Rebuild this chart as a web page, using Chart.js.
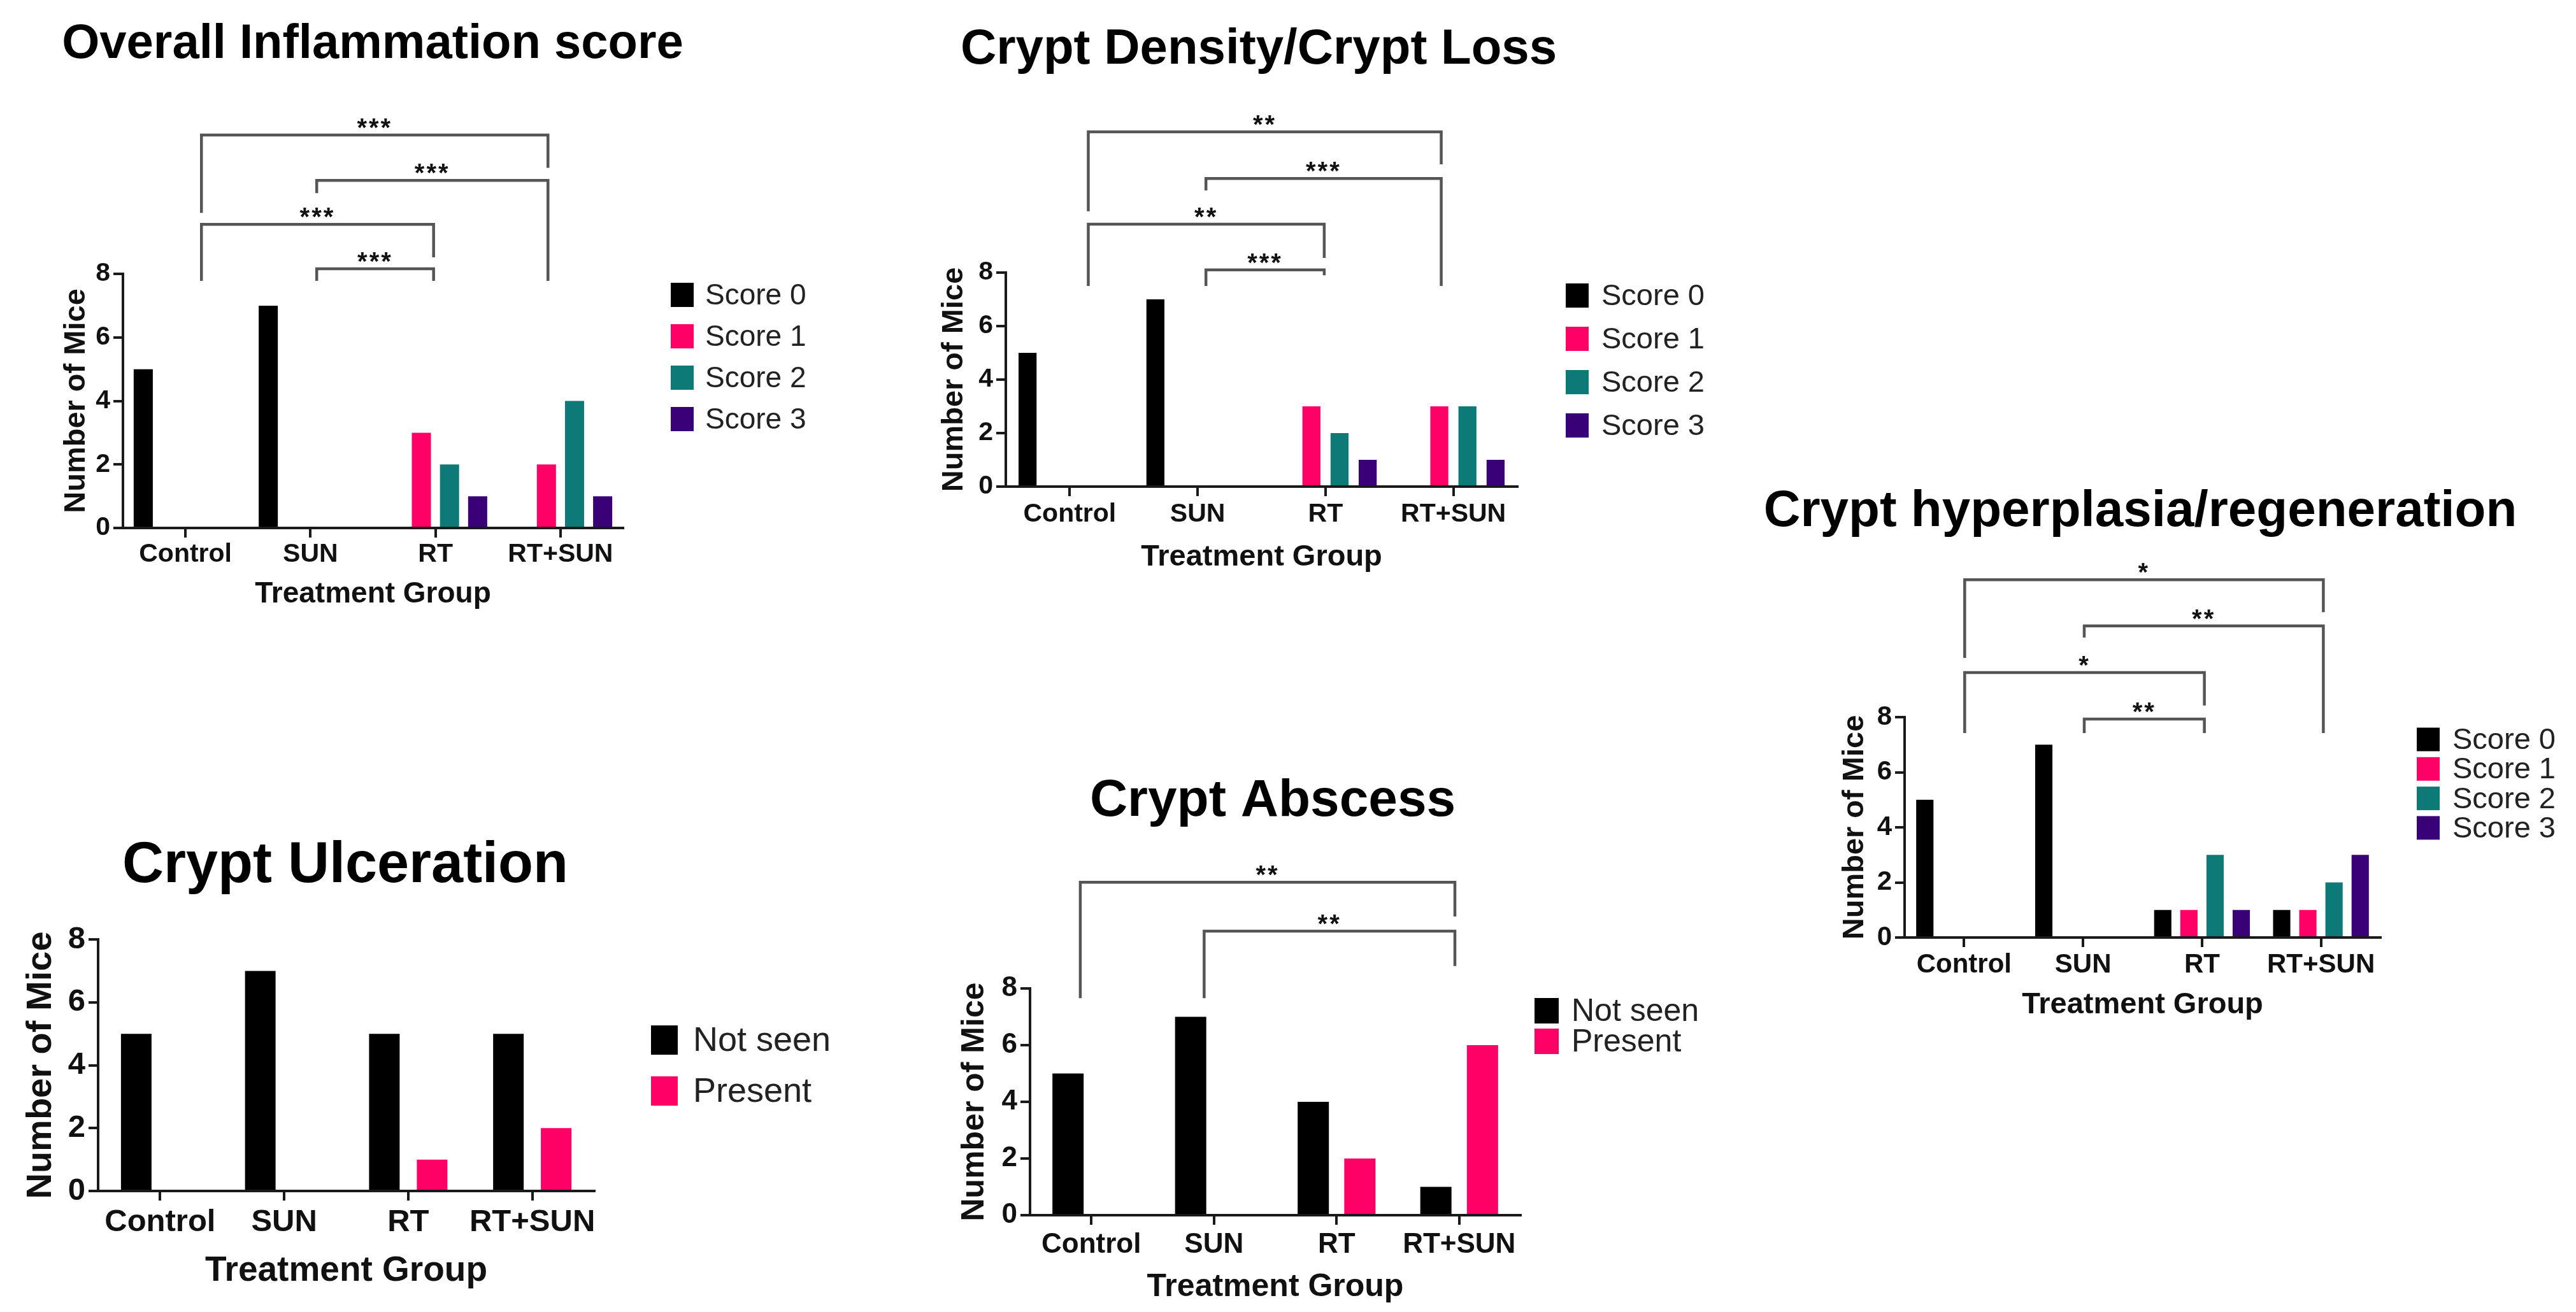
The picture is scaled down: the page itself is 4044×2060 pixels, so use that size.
<!DOCTYPE html>
<html>
<head>
<meta charset="utf-8">
<script src="https://cdn.jsdelivr.net/npm/chart.js@4/dist/chart.umd.min.js"></script>
<style>
  html, body { margin: 0; padding: 0; background: #fff; }
  body { width: 4044px; height: 2060px; position: relative; overflow: hidden; }
  canvas { position: absolute; }
</style>
</head>
<body>
<canvas id="c1"></canvas>
<canvas id="c2"></canvas>
<canvas id="c3"></canvas>
<canvas id="c4"></canvas>
<canvas id="c5"></canvas>
<script>
// data
const groups = ["Control", "SUN", "RT", "RT+SUN"];
const scoreNames = ["Score 0", "Score 1", "Score 2", "Score 3"];
const presenceNames = ["Not seen", "Present"];
const yTicks = [0, 2, 4, 6, 8];

const inflammation = [[5, 7, 0, 0], [0, 0, 3, 2], [0, 0, 2, 4], [0, 0, 1, 1]];
const cryptLoss = [[5, 7, 0, 0], [0, 0, 3, 3], [0, 0, 2, 3], [0, 0, 1, 1]];
const hyperplasia = [[5, 7, 1, 1], [0, 0, 1, 1], [0, 0, 3, 2], [0, 0, 1, 3]];
const ulceration = [[5, 7, 5, 5], [0, 0, 1, 2]];
const abscess = [[5, 7, 4, 1], [0, 0, 2, 6]];

// significance brackets: [group a, group b, stars]
const inflammationSig = [[0, 3, "***"], [1, 3, "***"], [0, 2, "***"], [1, 2, "***"]];
const cryptLossSig = [[0, 3, "**"], [1, 3, "***"], [0, 2, "**"], [1, 2, "***"]];
const hyperplasiaSig = [[0, 3, "*"], [1, 3, "**"], [0, 2, "*"], [1, 2, "**"]];
const abscessSig = [[0, 3, "**"], [1, 3, "**"]];

const colors = ["#000000", "#FF0066", "#0E7A78", "#3A0078"];
const FONT = '"Liberation Sans", Arial, sans-serif';
const AXIS = "#1a1a1a";

const panels = [
  { id: "c1", box: [0, 0, 1330, 1000], plot: [193, 430, 978, 829], yAxisW: 106, xAxisH: 132,
    title: "Overall Inflammation score", titleX: 585, titleY: 91, titleSize: 76,
    yTitleSize: 47, xTitleSize: 46, tickSize: 41, xTickPad: 2,
    legend: { x: 1053, y: 463, step: 65, w: 36, h: 38, textX: 1107, size: 46 },
    names: scoreNames, values: inflammation, cat: 0.9, bar: 0.68,
    sig: inflammationSig, shift: [0.128, 0.05, -0.015, -0.1],
    levels: [[12.37, 9.92, 11.34], [10.94, 10.54, 7.78], [9.56, 7.78, 8.52], [8.16, 7.78, 7.78]] },
  { id: "c2", box: [1400, 0, 2730, 960], plot: [1579, 428, 2382, 764], yAxisW: 114, xAxisH: 139,
    title: "Crypt Density/Crypt Loss", titleX: 1976, titleY: 100, titleSize: 78,
    yTitleSize: 47, xTitleSize: 47, tickSize: 41, xTickPad: 4,
    legend: { x: 2458, y: 464, step: 68, w: 36, h: 38, textX: 2514, size: 47 },
    names: scoreNames, values: cryptLoss, cat: 0.88, bar: 0.64,
    sig: cryptLossSig, shift: [0.145, 0.065, -0.01, -0.095],
    levels: [[13.26, 10.29, 12.05], [11.52, 11.07, 7.5], [9.81, 7.5, 8.55], [8.1, 7.5, 7.9]] },
  { id: "c3", box: [2740, 700, 4044, 1640], plot: [2990, 1126, 3737, 1472], yAxisW: 111, xAxisH: 134,
    title: "Crypt hyperplasia/regeneration", titleX: 3360, titleY: 826, titleSize: 80,
    yTitleSize: 47, xTitleSize: 47, tickSize: 42, xTickPad: 3,
    legend: { x: 3794, y: 1161, step: 46.3, w: 36, h: 37, textX: 3850, size: 47 },
    names: scoreNames, values: hyperplasia, cat: 0.88, bar: 0.66,
    sig: hyperplasiaSig, shift: [0.005, 0.01, 0.02, 0.02],
    levels: [[12.99, 10.15, 11.81], [11.31, 10.89, 7.42], [9.62, 7.42, 8.42], [7.93, 7.42, 7.42]] },
  { id: "c4", box: [0, 1200, 1380, 2060], plot: [154, 1475, 933, 1870], yAxisW: 128, xAxisH: 159,
    title: "Crypt Ulceration", titleX: 542, titleY: 1385, titleSize: 90,
    yTitleSize: 56, xTitleSize: 55, tickSize: 49, xTickPad: 5,
    legend: { x: 1022, y: 1633, step: 80, w: 42, h: 46, textX: 1088, size: 54 },
    names: presenceNames, values: ulceration, cat: 0.77, bar: 0.64,
    sig: [], shift: [0, 0, 0, 0], levels: [] },
  { id: "c5", box: [1400, 1180, 2740, 2060], plot: [1617, 1552, 2387, 1908], yAxisW: 122, xAxisH: 143,
    title: "Crypt Abscess", titleX: 1998, titleY: 1281, titleSize: 82,
    yTitleSize: 50, xTitleSize: 50, tickSize: 44, xTickPad: 5,
    legend: { x: 2409, y: 1587, step: 48, w: 38, h: 40, textX: 2467, size: 50 },
    names: presenceNames, values: abscess, cat: 0.76, bar: 0.67,
    sig: abscessSig, shift: [-0.09, -0.08, 0, -0.035],
    levels: [[11.75, 7.66, 10.54], [10.02, 7.66, 8.79]] }
];

// title, legend and significance brackets
const decor = {
  id: "decor",
  afterDraw(chart, args, opts) {
    const p = opts.panel;
    const ctx = chart.ctx;
    const ox = p.box[0], oy = p.box[1];
    const xs = chart.scales.x, ys = chart.scales.y;
    ctx.save();

    ctx.fillStyle = "#000";
    ctx.font = `bold ${p.titleSize}px ${FONT}`;
    ctx.textAlign = "center";
    ctx.textBaseline = "alphabetic";
    ctx.fillText(p.title, p.titleX - ox, p.titleY - oy);

    const L = p.legend;
    ctx.font = `${L.size}px ${FONT}`;
    ctx.textAlign = "left";
    ctx.textBaseline = "middle";
    chart.data.datasets.forEach((ds, i) => {
      const cy = L.y + i * L.step - oy;
      ctx.fillStyle = ds.backgroundColor;
      ctx.fillRect(L.x - ox, cy - L.h / 2, L.w, L.h);
      ctx.fillStyle = "#222";
      ctx.fillText(ds.label, L.textX - ox, cy + 2);
    });

    ctx.strokeStyle = "#555";
    ctx.lineWidth = 4.5;
    ctx.lineCap = "butt";
    ctx.font = `bold 40px ${FONT}`;
    ctx.textAlign = "center";
    ctx.textBaseline = "alphabetic";
    ctx.letterSpacing = "3px";
    p.sig.forEach(([a, b, stars], k) => {
      const [lev, legA, legB] = p.levels[k];
      const xa = xs.getPixelForValue(a + p.shift[a]);
      const xb = xs.getPixelForValue(b + p.shift[b]);
      const y = ys.getPixelForValue(lev);
      ctx.beginPath();
      ctx.moveTo(xa, ys.getPixelForValue(legA));
      ctx.lineTo(xa, y);
      ctx.lineTo(xb, y);
      ctx.lineTo(xb, ys.getPixelForValue(legB));
      ctx.stroke();
      ctx.fillStyle = "#111";
      ctx.fillText(stars, (xa + xb) / 2, y + 2);
    });
    ctx.restore();
  }
};

function makeChart(p) {
  const canvas = document.getElementById(p.id);
  const w = p.box[2] - p.box[0], h = p.box[3] - p.box[1];
  canvas.width = w;
  canvas.height = h;
  canvas.style.left = p.box[0] + "px";
  canvas.style.top = p.box[1] + "px";

  const pad = {
    left: p.plot[0] - p.box[0] - p.yAxisW,
    top: p.plot[1] - p.box[1],
    right: p.box[2] - p.plot[2],
    bottom: p.box[3] - p.plot[3] - p.xAxisH
  };

  const datasets = p.values.map((vals, i) => ({
    label: p.names[i],
    data: vals,
    backgroundColor: colors[i],
    borderWidth: 0
  }));

  return new Chart(canvas, {
    type: "bar",
    data: { labels: groups, datasets },
    options: {
      responsive: false,
      animation: false,
      devicePixelRatio: 1,
      layout: { padding: pad },
      datasets: { bar: { barPercentage: p.bar, categoryPercentage: p.cat } },
      plugins: {
        legend: { display: false },
        title: { display: false },
        tooltip: { enabled: false },
        decor: { panel: p }
      },
      scales: {
        x: {
          offset: true,
          afterFit: s => { s.height = p.xAxisH; },
          border: { display: true, color: AXIS, width: 4 },
          grid: { display: true, offset: false, drawOnChartArea: false, drawTicks: true,
                  tickLength: 15, tickWidth: 4, lineWidth: 4, tickColor: AXIS },
          ticks: { color: "#111", padding: p.xTickPad, maxRotation: 0, minRotation: 0, autoSkip: false,
                   font: { family: FONT, size: p.tickSize, weight: "bold" } },
          title: { display: true, text: "Treatment Group", color: "#111",
                   padding: { top: 0, bottom: 0 },
                   font: { family: FONT, size: p.xTitleSize, weight: "bold" } }
        },
        y: {
          min: 0,
          max: 8,
          afterBuildTicks: s => { s.ticks = yTicks.map(v => ({ value: v })); },
          afterFit: s => { s.width = p.yAxisW; },
          border: { display: true, color: AXIS, width: 4 },
          grid: { display: true, drawOnChartArea: false, drawTicks: true,
                  tickLength: 15, tickWidth: 4, lineWidth: 4, tickColor: AXIS },
          ticks: { color: "#111", padding: 5, autoSkip: false,
                   font: { family: FONT, size: p.tickSize, weight: "bold" } },
          title: { display: true, text: "Number of Mice", color: "#111",
                   padding: { top: 5, bottom: 0 },
                   font: { family: FONT, size: p.yTitleSize, weight: "bold" } }
        }
      }
    },
    plugins: [decor]
  });
}

panels.forEach(makeChart);
</script>
</body>
</html>
